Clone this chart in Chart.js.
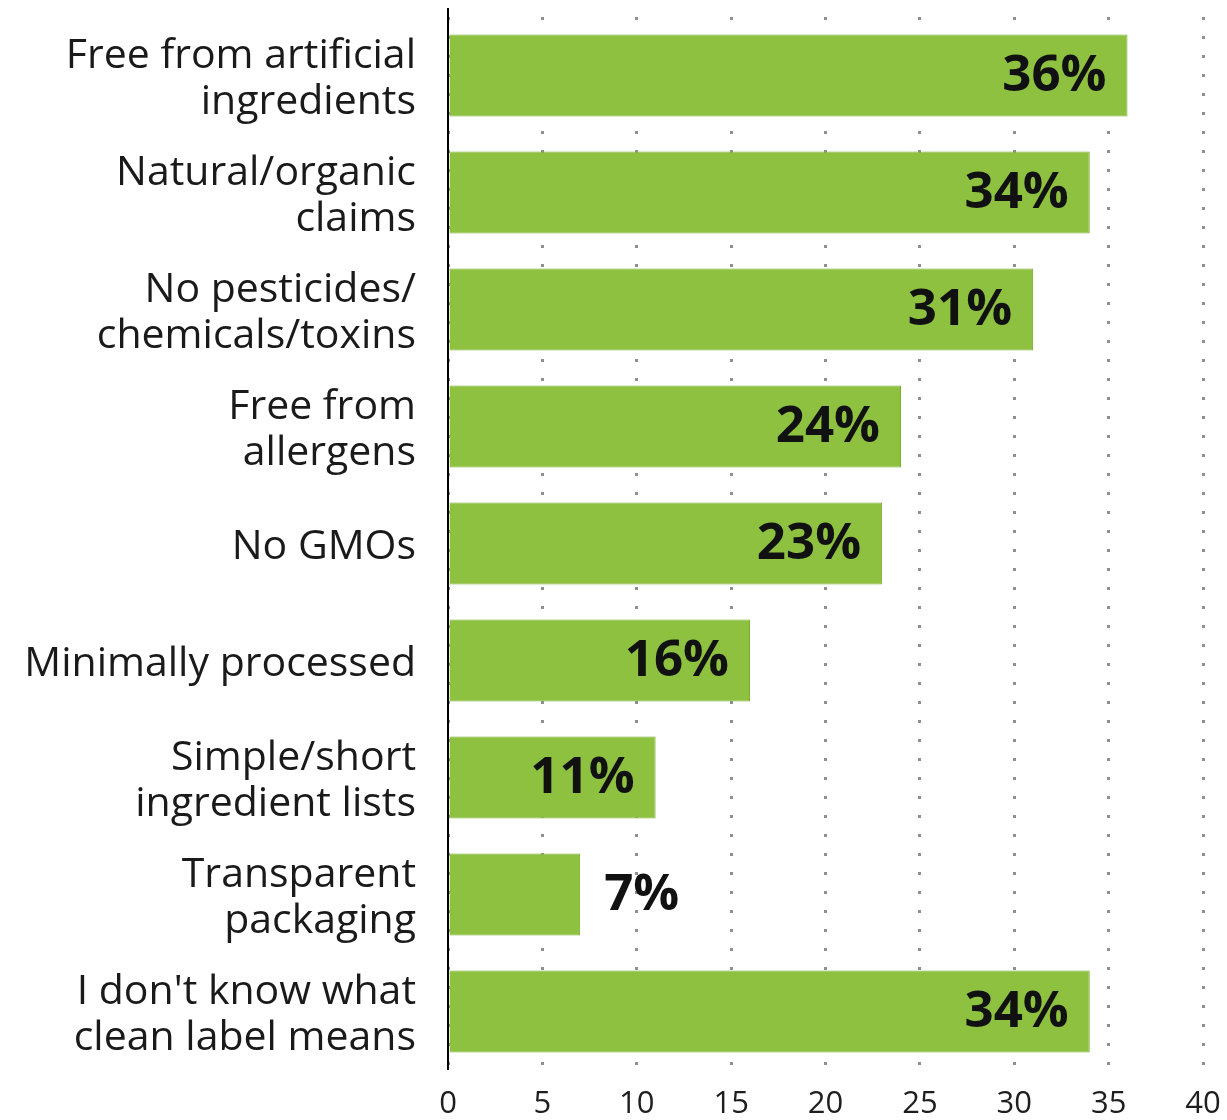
<!DOCTYPE html>
<html>
<head>
<meta charset="utf-8">
<script src="https://cdn.jsdelivr.net/npm/chart.js@4.4.1/dist/chart.umd.min.js"></script>
<style>
  html, body { margin: 0; padding: 0; background: #ffffff; }
  #wrap { position: relative; width: 1227px; height: 1120px; }
</style>
</head>
<body>
<div id="wrap"><canvas id="c"></canvas></div>
<script>
// Clean label meaning survey: share of respondents (%)
const categories = [
  ["Free from artificial", "ingredients"],
  ["Natural/organic", "claims"],
  ["No pesticides/", "chemicals/toxins"],
  ["Free from", "allergens"],
  "No GMOs",
  "Minimally processed",
  ["Simple/short", "ingredient lists"],
  ["Transparent", "packaging"],
  ["I don't know what", "clean label means"]
];
const shares = [36, 34, 31, 24, 23, 16, 11, 7, 34];
const axisTicks = [0, 5, 10, 15, 20, 25, 30, 35, 40];

const FONT = "'Open Sans', Lato, sans-serif";

// value labels: inside the bar end, or just past it for short bars
const valueLabels = {
  id: 'valueLabels',
  afterDatasetsDraw(chart) {
    const ctx = chart.ctx;
    const meta = chart.getDatasetMeta(0);
    ctx.save();
    ctx.font = "bold 51px " + FONT;
    ctx.fillStyle = '#111111';
    ctx.textBaseline = 'middle';
    meta.data.forEach((bar, i) => {
      const v = shares[i];
      const txt = v + '%';
      if (v >= 10) {
        ctx.textAlign = 'right';
        ctx.fillText(txt, bar.x - 21, bar.y + 1);
      } else {
        ctx.textAlign = 'left';
        ctx.fillText(txt, bar.x + 24, bar.y + 1);
      }
    });
    ctx.restore();
  }
};

// vertical category axis line, running slightly above the plot
const axisLine = {
  id: 'axisLine',
  afterDraw(chart) {
    const { ctx, chartArea } = chart;
    ctx.save();
    ctx.strokeStyle = '#000000';
    ctx.lineWidth = 2;
    ctx.beginPath();
    ctx.moveTo(chartArea.left, 8);
    ctx.lineTo(chartArea.left, chartArea.bottom);
    ctx.stroke();
    ctx.restore();
  }
};

new Chart(document.getElementById('c'), {
  type: 'bar',
  data: {
    labels: categories,
    datasets: [{
      data: shares,
      backgroundColor: '#8dc13f',
      borderColor: '#7bae2f',
      borderWidth: 1,
      categoryPercentage: 1.0,
      barPercentage: 0.7
    }]
  },
  options: {
    indexAxis: 'y',
    responsive: true,
    maintainAspectRatio: false,
    animation: false,
    layout: { padding: { left: 0, right: 24, top: 17, bottom: 0 } },
    plugins: {
      legend: { display: false },
      tooltip: { enabled: false }
    },
    scales: {
      x: {
        type: 'linear',
        min: 0,
        max: 40,
        afterBuildTicks(scale) {
          scale.ticks = axisTicks.map(v => ({ value: v }));
        },
        grid: {
          display: true,
          color: '#8f8f8f',
          lineWidth: 3,
          drawTicks: false
        },
        border: { display: false, dash: [3, 16] },
        ticks: {
          color: '#1e1e1e',
          font: { family: FONT, size: 31 },
          padding: 16
        },
        afterFit(scale) {
          scale.height = 50;
          scale.paddingLeft = 0;
          scale.paddingRight = 0;
        }
      },
      y: {
        grid: { display: false },
        border: { display: false },
        ticks: {
          color: '#1a1a1a',
          font: { family: FONT, size: 41, lineHeight: 1.12 },
          padding: 24,
          labelOffset: 4
        },
        afterFit(scale) {
          scale.width = 448;
          scale.paddingTop = 0;
          scale.paddingBottom = 0;
        }
      }
    }
  },
  plugins: [valueLabels, axisLine]
});
</script>
</body>
</html>
